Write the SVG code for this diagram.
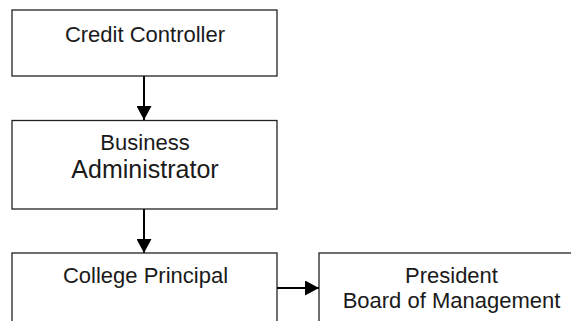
<svg xmlns="http://www.w3.org/2000/svg" width="571" height="321" viewBox="0 0 571 321">
<style>
.box{fill:#fff;stroke:#222;stroke-width:1.3}
.t{font-family:"Liberation Sans",Arial,sans-serif;font-size:22px;fill:#1a1a1a;text-anchor:middle}
.big{font-size:25px}
.c{stroke:#000;stroke-width:2;fill:none}
</style>
<defs>
<marker id="ah" markerUnits="userSpaceOnUse" markerWidth="15" markerHeight="15" refX="14" refY="7.5" orient="auto">
<path d="M0,0 L14,7.5 L0,15 Z" fill="#000"/>
</marker>
</defs>
<rect width="571" height="321" fill="#fff"/>
<g id="connectors">
<line class="c" x1="144" y1="76" x2="144" y2="120" marker-end="url(#ah)"/>
<line class="c" x1="144" y1="209" x2="144" y2="253" marker-end="url(#ah)"/>
<line class="c" x1="277" y1="288" x2="319" y2="288" marker-end="url(#ah)"/>
</g>
<g id="credit-controller">
<rect class="box" x="12" y="10" width="265" height="66"/>
<text class="t" x="145" y="42">Credit Controller</text>
</g>
<g id="business-administrator">
<rect class="box" x="12" y="120.5" width="265" height="88.5"/>
<text class="t" x="145" y="150">Business</text>
<text class="t big" x="145" y="178">Administrator</text>
</g>
<g id="college-principal">
<rect class="box" x="12" y="253" width="265" height="90"/>
<text class="t" x="145.5" y="283">College Principal</text>
</g>
<g id="president">
<rect class="box" x="319" y="253" width="265" height="90"/>
<text class="t" x="451.5" y="283">President</text>
<text class="t" x="451.5" y="308">Board of Management</text>
</g>
</svg>
